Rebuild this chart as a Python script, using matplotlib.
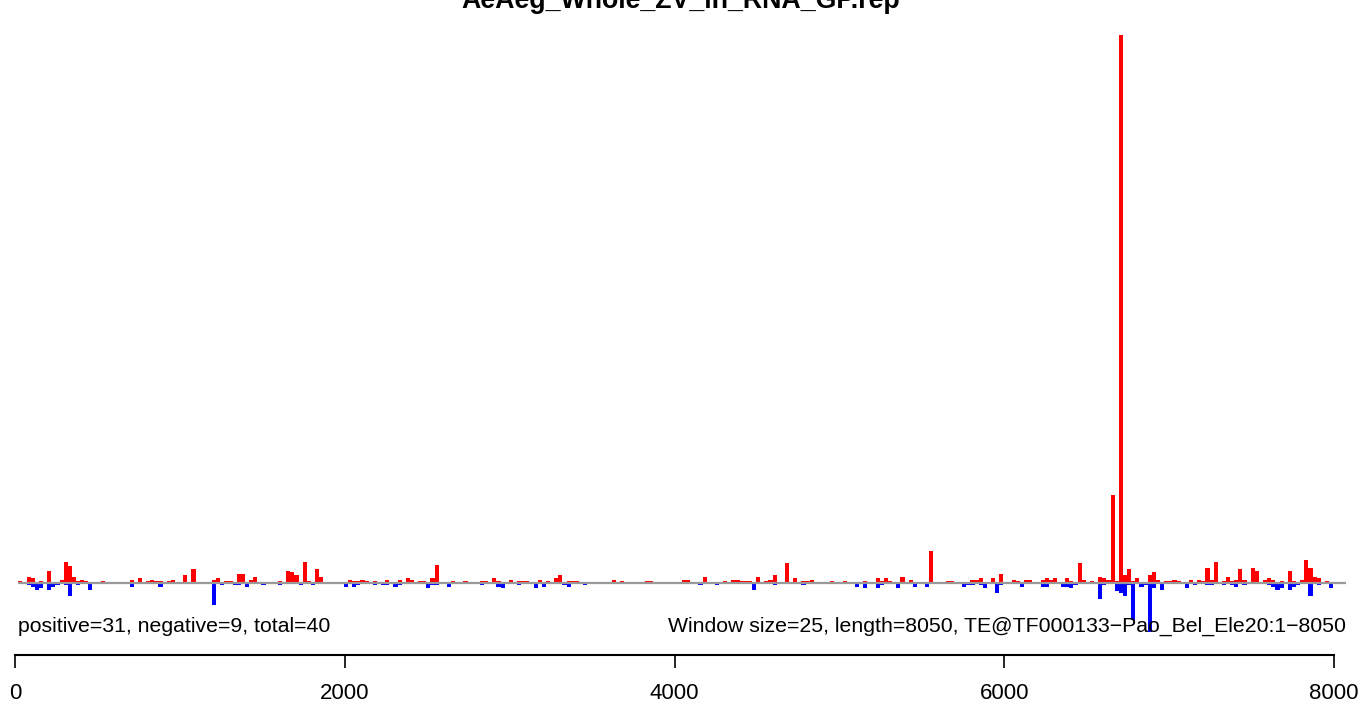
import matplotlib
matplotlib.use('Agg')
import matplotlib.pyplot as plt
import numpy as np

plt.rcParams['font.family'] = ['Liberation Sans', 'DejaVu Sans']

title = 'AeAeg_Whole_ZV_in_RNA_GP.rep'
left_note = 'positive=31, negative=9, total=40'
right_note = 'Window size=25, length=8050, TE@TF000133\u2212Pao_Bel_Ele20:1\u22128050'

window = 25
seq_len = 8050
offset = 20

# window index -> signal, sense strand (up, red)
pos_idx = [0, 2, 3, 5, 7, 10, 11, 12, 13, 14, 15, 16, 20, 27, 29, 31, 32, 33, 34, 36,
           37, 40, 42, 47, 48, 50, 51, 53, 54, 56, 57, 63, 65, 66, 67, 69, 70, 72, 73, 80,
           81, 82, 83, 84, 86, 89, 92, 94, 95, 97, 98, 100, 101, 105, 108, 112, 113, 115, 116, 119,
           121, 122, 123, 126, 128, 130, 131, 133, 134, 135, 144, 146, 152, 153, 161, 162, 166, 171, 173, 174,
           175, 176, 177, 179, 181, 182, 183, 186, 188, 190, 191, 192, 197, 200, 205, 208, 209, 210, 211, 214,
           216, 221, 225, 226, 231, 232, 233, 236, 238, 241, 242, 244, 245, 248, 249, 250, 251, 254, 255, 257,
           258, 260, 262, 263, 264, 265, 266, 267, 268, 269, 270, 271, 274, 275, 276, 278, 279, 280, 281, 284,
           286, 287, 288, 289, 290, 292, 293, 294, 295, 296, 297, 299, 300, 302, 303, 304, 306, 308, 309, 311,
           312, 313, 314, 315, 317]
pos_val = [2, 6, 5, 2, 12, 3, 21, 17, 6, 2, 3, 2, 2, 3, 5, 2, 3, 2, 2, 2,
           3, 8, 14, 3, 5, 2, 2, 9, 9, 3, 6, 2, 12, 11, 8, 21, 2, 14, 6, 3,
           2, 2, 3, 2, 2, 3, 3, 5, 3, 2, 2, 5, 18, 2, 2, 2, 2, 5, 2, 3,
           2, 2, 2, 3, 2, 5, 8, 2, 2, 2, 3, 2, 2, 2, 3, 3, 6, 2, 3, 3,
           2, 2, 2, 6, 2, 3, 8, 20, 5, 2, 2, 3, 2, 2, 2, 5, 2, 5, 2, 6,
           3, 32, 2, 2, 3, 3, 5, 5, 9, 3, 2, 3, 3, 3, 5, 3, 5, 5, 2, 20,
           3, 2, 6, 5, 3, 88, 2, 548, 8, 14, 2, 5, 8, 11, 3, 2, 2, 3, 2, 3,
           3, 2, 15, 3, 21, 2, 6, 2, 3, 14, 3, 15, 12, 3, 5, 3, 2, 12, 2, 3,
           23, 15, 6, 5, 2]

# antisense strand (down, blue)
neg_idx = [2, 3, 4, 5, 7, 8, 9, 11, 12, 14, 17, 27, 34, 47, 49, 52, 53, 55, 59, 63,
           68, 71, 79, 81, 82, 86, 88, 89, 91, 92, 99, 100, 101, 104, 112, 116, 117, 121, 125, 127,
           132, 133, 137, 165, 169, 178, 183, 190, 203, 205, 208, 209, 213, 217, 220, 229, 230, 231, 233, 234,
           237, 238, 243, 248, 249, 253, 254, 255, 256, 262, 263, 266, 267, 268, 269, 270, 272, 273, 274, 275,
           277, 283, 285, 288, 289, 292, 294, 295, 297, 303, 304, 305, 306, 308, 309, 310, 313, 315, 318]
neg_val = [2, 4, 7, 5, 7, 4, 2, 2, 13, 2, 7, 4, 4, 22, 2, 2, 2, 4, 2, 2,
           2, 2, 4, 4, 2, 2, 2, 2, 4, 2, 5, 2, 2, 4, 2, 4, 5, 2, 5, 4,
           2, 4, 2, 2, 2, 7, 2, 2, 4, 5, 5, 2, 5, 4, 4, 4, 2, 2, 2, 5,
           10, 2, 4, 4, 4, 4, 4, 5, 2, 16, 2, 8, 10, 13, 2, 37, 4, 2, 49, 5,
           7, 5, 2, 2, 2, 2, 2, 4, 2, 2, 4, 7, 5, 7, 4, 2, 13, 2, 5]

xticks = [0, 2000, 4000, 6000, 8000]

W, H = 1361, 707
fig = plt.figure(figsize=(W / 100, H / 100), dpi=100)
ax = fig.add_axes([0, 0, 1, 1])

# map pixels: x=0 -> 15px, 8000 -> 1334px; baseline at 583px
sx = (1334 - 15) / 8000.0
ax.set_xlim(-15 / sx, (W - 15) / sx)
ax.set_ylim(-(H - 583), 583)

pos_x = np.array(pos_idx) * window + offset
neg_x = np.array(neg_idx) * window + offset
ax.bar(pos_x, pos_val, width=window, align='edge', color='#ff0000', linewidth=0)
ax.bar(neg_x, -np.array(neg_val), width=window, align='edge', color='#0000ff', linewidth=0)
ax.plot([offset - 2, seq_len + 25], [0, 0], color='#999999', lw=1.6, zorder=3,
        solid_capstyle='butt')

for s in ['top', 'left', 'right']:
    ax.spines[s].set_visible(False)
ax.spines['bottom'].set_position(('data', 583 - 655))
ax.spines['bottom'].set_bounds(0, 8000)
ax.spines['bottom'].set_linewidth(1.5)
ax.set_yticks([])
ax.set_xticks(xticks)
ax.set_xticklabels([str(t) for t in xticks])
ax.tick_params(axis='x', direction='out', length=9.5, width=1.2, pad=11, labelsize=16)

ax.text(18 / W, 1 - 626 / H, left_note, transform=fig.transFigure, ha='left', va='center',
        fontsize=15.3)
ax.text(1346 / W, 1 - 626 / H, right_note, transform=fig.transFigure, ha='right', va='center',
        fontsize=15.3)
fig.text(0.5, 1 - 8 / H, title, ha='center', va='baseline', fontsize=19.3, fontweight='bold')

fig.savefig('out.png', dpi=100)
